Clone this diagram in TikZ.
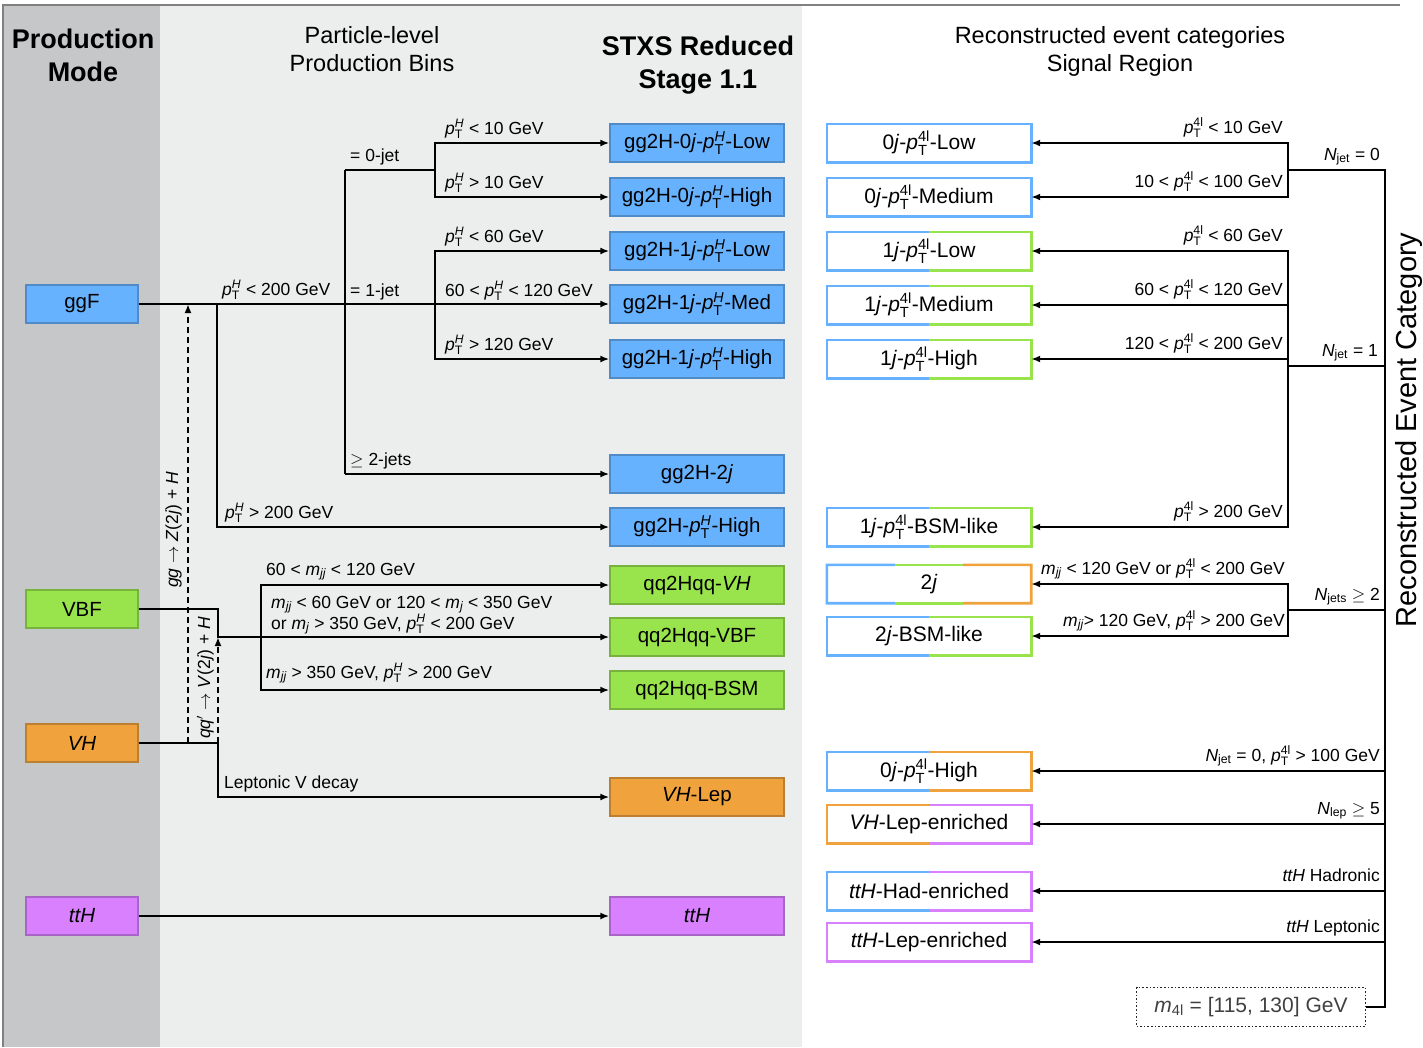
\documentclass[tikz,border=0pt]{standalone}
\usepackage{amsmath}
\usepackage{fontspec}
\setmainfont{Liberation Sans}
\usetikzlibrary{arrows.meta,calc}

\definecolor{ggfblue}{RGB}{102,178,255}
\definecolor{vbfgreen}{RGB}{153,228,77}
\definecolor{vhorange}{RGB}{240,163,60}
\definecolor{tthviolet}{RGB}{217,128,255}
\definecolor{modegray}{RGB}{198,199,201}
\definecolor{binsgray}{RGB}{236,238,238}

\newcommand{\lblfont}{\fontsize{17.5}{20}\selectfont}
\newcommand{\boxfont}{\fontsize{20.5}{24}\selectfont}
\newcommand{\recofont}{\fontsize{21}{24}\selectfont}
\newcommand{\headfont}{\fontsize{23.5}{28}\selectfont}
\newcommand{\boldhead}{\fontsize{27}{33}\selectfont\bfseries}
\newcommand{\sidefont}{\fontsize{29}{34}\selectfont}

\newcommand{\ptH}{\textit{p}$_{\text{T}}^{\textit{H}}$}
\newcommand{\ptfl}{\textit{p}$_{\text{T}}^{\text{4l}}$}
\newcommand{\mjj}{\textit{m}$_{\textit{jj}}$}
\newcommand{\mj}{\textit{m}$_{\textit{j}}$}
\newcommand{\Nsub}[1]{\textit{N}$_{\text{#1}}$}

% frame of a reco box, left half in #2, right half in #3
\newcommand{\recoframe}[3]{%
  \draw[line width=2.6pt, #2] (#1.north) -- (#1.north west) -- (#1.south west) -- (#1.south);
  \draw[line width=2.6pt, #3] (#1.north) -- (#1.north east) -- (#1.south east) -- (#1.south);}

\begin{document}
\begin{tikzpicture}[x=1pt, y=-1pt, >={Latex[length=9pt,width=7pt]},
    every node/.style={inner sep=0pt},
    binbox/.style={draw=#1!78!black, fill=#1, line width=1.4pt, minimum height=38pt, font=\boxfont},
    modebox/.style={binbox=#1, minimum width=112pt},
    stxsbox/.style={binbox=#1, minimum width=174pt},
    recobox/.style={minimum width=204pt, minimum height=38pt, font=\recofont},
    lbl/.style={font=\lblfont, anchor=base west},
    rlbl/.style={font=\lblfont, anchor=base east},
    link/.style={line width=2.2pt},
    flow/.style={link, ->},
    zflow/.style={line width=1.8pt, dash pattern=on 6pt off 4pt, ->}]
    \useasboundingbox (0,0) rectangle (1423,1047);

    % panels
    \fill[modegray] (4,6) rectangle (160,1047);
    \fill[binsgray] (160,6) rectangle (802,1047);
    \draw[gray, line width=2.5pt] (3,1047) -- (3,5) -- (1400,5);

    % headers
    \node[font=\boldhead, align=center, anchor=north] (hmode) at (83,28.5) {Production\\Mode};
    \node[font=\headfont, align=center, anchor=north] (hbins) at (372,26) {Particle-level\\Production Bins};
    \node[font=\boldhead, align=center, anchor=north] (hstxs) at (698,36) {STXS Reduced\\Stage 1.1};
    \node[font=\headfont, align=center, anchor=north] (hreco) at (1120,26) {Reconstructed event categories\\Signal Region};

    % production modes
    \node[modebox=ggfblue] (ggF) at (82,304) {ggF};
    \node[modebox=vbfgreen] (VBF) at (82,609) {VBF};
    \node[modebox=vhorange] (VH) at (82,743) {\textit{VH}};
    \node[modebox=tthviolet] (ttH) at (82,916) {\textit{ttH}};

    % STXS bins
    \node[stxsbox=ggfblue] (s0low) at (697,143) {gg2H-0\textit{j}-\ptH-Low};
    \node[stxsbox=ggfblue] (s0high) at (697,197) {gg2H-0\textit{j}-\ptH-High};
    \node[stxsbox=ggfblue] (s1low) at (697,251) {gg2H-1\textit{j}-\ptH-Low};
    \node[stxsbox=ggfblue] (s1med) at (697,304) {gg2H-1\textit{j}-\ptH-Med};
    \node[stxsbox=ggfblue] (s1high) at (697,359) {gg2H-1\textit{j}-\ptH-High};
    \node[stxsbox=ggfblue] (s2j) at (697,474) {gg2H-2\textit{j}};
    \node[stxsbox=ggfblue] (shigh) at (697,527) {gg2H-\ptH-High};
    \node[stxsbox=vbfgreen] (sqqvh) at (697,585) {qq2Hqq-\textit{VH}};
    \node[stxsbox=vbfgreen] (sqqvbf) at (697,637) {qq2Hqq-VBF};
    \node[stxsbox=vbfgreen] (sqqbsm) at (697,690) {qq2Hqq-BSM};
    \node[stxsbox=vhorange] (svhlep) at (697,797) {\textit{VH}-Lep};
    \node[stxsbox=tthviolet] (stth) at (697,916) {\textit{ttH}};

    % reco categories
    \node[recobox] (r0low) at (929,143) {0\textit{j}-\ptfl-Low};
    \node[recobox] (r0med) at (929,197) {0\textit{j}-\ptfl-Medium};
    \node[recobox] (r1low) at (929,251) {1\textit{j}-\ptfl-Low};
    \node[recobox] (r1med) at (929,305) {1\textit{j}-\ptfl-Medium};
    \node[recobox] (r1high) at (929,359) {1\textit{j}-\ptfl-High};
    \node[recobox] (r1bsm) at (929,527) {1\textit{j}-\ptfl-BSM-like};
    \node[recobox] (r2j) at (929,584) {2\textit{j}};
    \node[recobox] (r2jbsm) at (929,636) {2\textit{j}-BSM-like};
    \node[recobox] (r0high) at (929,771) {0\textit{j}-\ptfl-High};
    \node[recobox] (rvhlep) at (929,824) {\textit{VH}-Lep-enriched};
    \node[recobox] (rtthad) at (929,891) {\textit{ttH}-Had-enriched};
    \node[recobox] (rttlep) at (929,942) {\textit{ttH}-Lep-enriched};

    \recoframe{r0low}{ggfblue}{ggfblue}
    \recoframe{r0med}{ggfblue}{ggfblue}
    \recoframe{r1low}{ggfblue}{vbfgreen}
    \recoframe{r1med}{ggfblue}{vbfgreen}
    \recoframe{r1high}{ggfblue}{vbfgreen}
    \recoframe{r1bsm}{ggfblue}{vbfgreen}
    \recoframe{r2jbsm}{ggfblue}{vbfgreen}
    \recoframe{r0high}{ggfblue}{vhorange}
    \recoframe{rvhlep}{vhorange}{tthviolet}
    \recoframe{rtthad}{ggfblue}{tthviolet}
    \recoframe{rttlep}{tthviolet}{tthviolet}
    % 2j frame in thirds
    \draw[line width=2.6pt, ggfblue] ($(r2j.north west)!1/3!(r2j.north east)$) -- (r2j.north west)
        -- (r2j.south west) -- ($(r2j.south west)!1/3!(r2j.south east)$);
    \draw[line width=2.6pt, vbfgreen] ($(r2j.north west)!1/3!(r2j.north east)$) -- ($(r2j.north west)!2/3!(r2j.north east)$);
    \draw[line width=2.6pt, vbfgreen] ($(r2j.south west)!1/3!(r2j.south east)$) -- ($(r2j.south west)!2/3!(r2j.south east)$);
    \draw[line width=2.6pt, vhorange] ($(r2j.north west)!2/3!(r2j.north east)$) -- (r2j.north east)
        -- (r2j.south east) -- ($(r2j.south west)!2/3!(r2j.south east)$);

    \node[draw=black!85, dotted, line width=1.6pt, minimum width=229pt, minimum height=39pt,
        font=\recofont, text=black!75] (m4l) at (1251,1007) {\textit{m}$_{\text{4l}}$ = [115, 130] GeV};

    % ggF tree
    \coordinate (b200) at (217,304);
    \coordinate (j0) at (345,170);
    \coordinate (j2) at (345,474);
    \coordinate (p0) at (435,170);
    \coordinate (p1) at (435,304);
    \draw[flow] (ggF.east) -- (s1med.west);
    \draw[flow] (b200) |- (shigh.west);
    \draw[link] (j0) -- (j2);
    \draw[flow] (j2) -- (s2j.west);
    \draw[link] (j0) -- (p0);
    \draw[flow] (p0) |- (s0low.west);
    \draw[flow] (p0) |- (s0high.west);
    \draw[flow] (p1) |- (s1low.west);
    \draw[flow] (p1) |- (s1high.west);

    % VBF, VH, ttH
    \coordinate (vbfk) at (218,637);
    \coordinate (vhk) at (218,743);
    \coordinate (mjj) at (261,637);
    \coordinate (zfoot) at (188,743);
    \coordinate (ztop) at (188,304);
    \draw[flow] (VBF.east) -| (vbfk) -- (sqqvbf.west);
    \draw[flow] (mjj) |- (sqqvh.west);
    \draw[flow] (mjj) |- (sqqbsm.west);
    \draw[flow] (VH.east) -- (vhk) |- (svhlep.west);
    \draw[flow] (ttH.east) -- (stth.west);
    \draw[zflow] (zfoot) -- (ztop);
    \draw[zflow] (vhk) -- (vbfk);

    % left labels
    \node[lbl] (l200lo) at (222,295) {\ptH{} < 200 GeV};
    \node[lbl] (l200hi) at (225,518) {\ptH{} > 200 GeV};
    \node[lbl] (l0j) at (350,161) {= 0-jet};
    \node[lbl] (l1j) at (350,296) {= 1-jet};
    \node[lbl] (l2j) at (350,465) {$\geq$ 2-jets};
    \node[lbl] (l10lo) at (445,134) {\ptH{} < 10 GeV};
    \node[lbl] (l10hi) at (445,188) {\ptH{} > 10 GeV};
    \node[lbl] (l60) at (445,242) {\ptH{} < 60 GeV};
    \node[lbl] (l120) at (445,296) {60 < \ptH{} < 120 GeV};
    \node[lbl] (l120hi) at (445,350) {\ptH{} > 120 GeV};
    \node[lbl] (lvh) at (266,575) {60 < \mjj{} < 120 GeV};
    \node[lbl] (lvbfa) at (271,608) {\mjj{} < 60 GeV or 120 < \mj{} < 350 GeV};
    \node[lbl] (lvbfb) at (271,629) {or \mj{} > 350 GeV, \ptH{} < 200 GeV};
    \node[lbl] (lbsm) at (266,678) {\mjj{} > 350 GeV, \ptH{} > 200 GeV};
    \node[lbl] (llep) at (224,788) {Leptonic V decay};
    \node[font=\lblfont, rotate=90, anchor=base] (lggz) at (178,530)
        {\textit{gg} $\rightarrow$ \textit{Z}(2\textit{j}) + \textit{H}};
    \node[font=\lblfont, rotate=90, anchor=base] (lqqv) at (210,678)
        {\textit{qq}$'$ $\rightarrow$ \textit{V}(2\textit{j}) + \textit{H}};

    % reco tree
    \coordinate (trunk) at (1385,170);
    \coordinate (n0) at (1288,170);
    \coordinate (n1) at (1288,366);
    \coordinate (n2) at (1288,610);
    \draw[link] (m4l.east) -| (trunk) -- (n0);
    \draw[link] (trunk |- n1) -- (n1);
    \draw[link] (trunk |- n2) -- (n2);
    \draw[flow] (n0) |- (r0low.east);
    \draw[flow] (n0) |- (r0med.east);
    \draw[flow] (n1) |- (r1low.east);
    \draw[flow] (n1) |- (r1med.east);
    \draw[flow] (n1) |- (r1high.east);
    \draw[flow] (n1) |- (r1bsm.east);
    \draw[flow] (n2) |- (r2j.east);
    \draw[flow] (n2) |- (r2jbsm.east);
    \draw[flow] (trunk |- r0high.east) -- (r0high.east);
    \draw[flow] (trunk |- rvhlep.east) -- (rvhlep.east);
    \draw[flow] (trunk |- rtthad.east) -- (rtthad.east);
    \draw[flow] (trunk |- rttlep.east) -- (rttlep.east);

    % right labels
    \node[rlbl] (q10) at (1283,133) {\ptfl{} < 10 GeV};
    \node[rlbl] (q100) at (1283,187) {10 < \ptfl{} < 100 GeV};
    \node[rlbl] (q60) at (1283,241) {\ptfl{} < 60 GeV};
    \node[rlbl] (q120) at (1283,295) {60 < \ptfl{} < 120 GeV};
    \node[rlbl] (q200) at (1283,349) {120 < \ptfl{} < 200 GeV};
    \node[rlbl] (q200hi) at (1283,517) {\ptfl{} > 200 GeV};
    \node[rlbl] (q2j) at (1285,574) {\mjj{} < 120 GeV or \ptfl{} < 200 GeV};
    \node[rlbl] (q2jbsm) at (1285,626) {\mjj{}> 120 GeV, \ptfl{} > 200 GeV};
    \node[rlbl] (qn0) at (1380,160) {\Nsub{jet} = 0};
    \node[rlbl] (qn1) at (1378,356) {\Nsub{jet} = 1};
    \node[rlbl] (qn2) at (1380,600) {\Nsub{jets} $\geq$ 2};
    \node[rlbl] (qhigh) at (1380,761) {\Nsub{jet} = 0, \ptfl{} > 100 GeV};
    \node[rlbl] (qlep) at (1380,814) {\Nsub{lep} $\geq$ 5};
    \node[rlbl] (qhad) at (1380,881) {\textit{ttH} Hadronic};
    \node[rlbl] (qtlep) at (1380,932) {\textit{ttH} Leptonic};

    \node[font=\sidefont, rotate=90, anchor=base] (side) at (1416,430) {Reconstructed Event Category};
\end{tikzpicture}
\end{document}
